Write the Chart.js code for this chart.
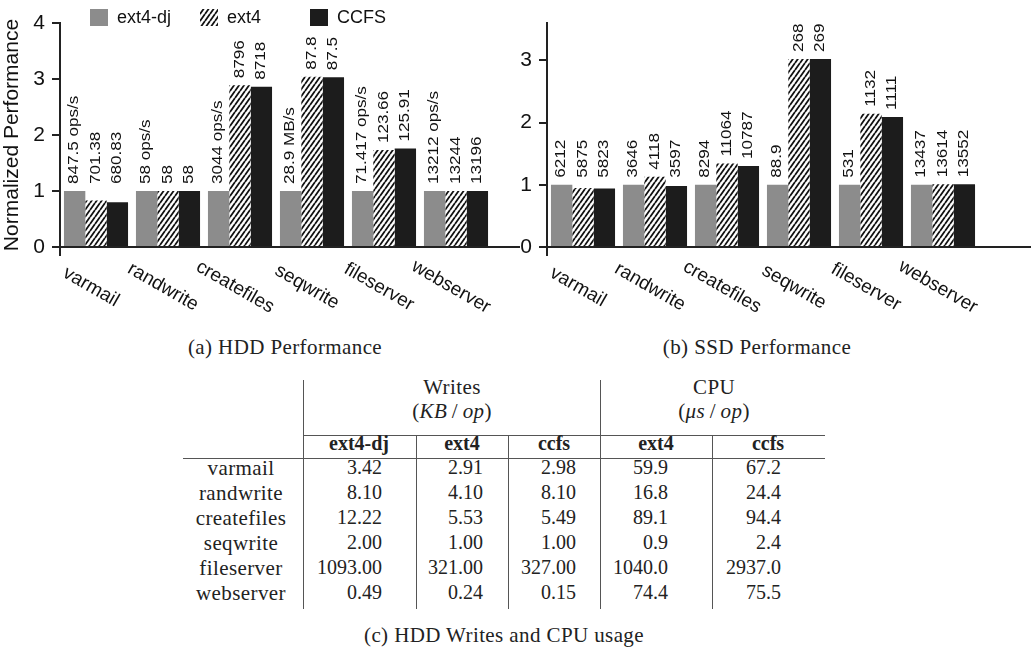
<!DOCTYPE html>
<html>
<head>
<meta charset="utf-8">
<script src="https://cdn.jsdelivr.net/npm/chart.js@4.4.1/dist/chart.umd.min.js"></script>
<style>
  body { margin: 0; width: 1031px; height: 654px; background: #fff; position: relative; overflow: hidden; }
  canvas { position: absolute; top: 0; }
  #hdd { left: 0; }
  #ssd { left: 520px; }
  .cell { position: absolute; height: 30px; line-height: 30px; font: 20px "Liberation Serif", "DejaVu Serif", serif; color: #222; white-space: nowrap; }
  .word { font-size: 21px; letter-spacing: 0.4px; }
  .bold { font-weight: bold; }
  .rule { position: absolute; background: #555; }
</style>
</head>
<body>
<canvas id="hdd" width="520" height="330"></canvas>
<canvas id="ssd" width="511" height="330"></canvas>
<script>
// --- data ---
const categories = ['varmail', 'randwrite', 'createfiles', 'seqwrite', 'fileserver', 'webserver'];
const seriesNames = ['ext4-dj', 'ext4', 'CCFS'];

// normalized to ext4-dj
const hddDj   = [1, 1, 1, 1, 1, 1];
const hddExt4 = [0.83, 1.0, 2.89, 3.04, 1.73, 1.0];
const hddCcfs = [0.80, 1.0, 2.86, 3.03, 1.76, 1.0];
const hddDjLabels   = ['847.5 ops/s', '58 ops/s', '3044 ops/s', '28.9 MB/s', '71.417 ops/s', '13212 ops/s'];
const hddExt4Labels = ['701.38', '58', '8796', '87.8', '123.66', '13244'];
const hddCcfsLabels = ['680.83', '58', '8718', '87.5', '125.91', '13196'];
const hddTicks = [0, 1, 2, 3, 4];

const ssdDj   = [1, 1, 1, 1, 1, 1];
const ssdExt4 = [0.95, 1.13, 1.34, 3.02, 2.14, 1.01];
const ssdCcfs = [0.94, 0.98, 1.30, 3.02, 2.09, 1.01];
const ssdDjLabels   = ['6212', '3646', '8294', '88.9', '531', '13437'];
const ssdExt4Labels = ['5875', '4118', '11064', '268', '1132', '13614'];
const ssdCcfsLabels = ['5823', '3597', '10787', '269', '1111', '13552'];
const ssdTicks = [0, 1, 2, 3];

// table (c)
const writesDj   = ['3.42', '8.10', '12.22', '2.00', '1093.00', '0.49'];
const writesExt4 = ['2.91', '4.10', '5.53', '1.00', '321.00', '0.24'];
const writesCcfs = ['2.98', '8.10', '5.49', '1.00', '327.00', '0.15'];
const cpuExt4    = ['59.9', '16.8', '89.1', '0.9', '1040.0', '74.4'];
const cpuCcfs    = ['67.2', '24.4', '94.4', '2.4', '2937.0', '75.5'];

const SANS = '"Liberation Sans", Arial, sans-serif';
const GRAY = '#8c8c8c';
const BLACK = '#1c1c1c';
const INK = '#222';

function makeHatch(ctx) {
  const c = document.createElement('canvas');
  c.width = 5; c.height = 7;
  const g = c.getContext('2d');
  g.fillStyle = '#fff';
  g.fillRect(0, 0, 5, 7);
  g.strokeStyle = '#111';
  g.lineWidth = 1.8;
  g.beginPath();
  [-5, 0, 5].forEach(dx => { g.moveTo(dx, 7); g.lineTo(dx + 5, 0); });
  g.stroke();
  return ctx.createPattern(c, 'repeat');
}

// value labels, rotated, above each bar
const valueLabels = {
  id: 'valueLabels',
  afterDatasetsDraw(chart) {
    const ctx = chart.ctx;
    const y1 = chart.scales.y.getPixelForValue(1);
    ctx.save();
    ctx.fillStyle = '#111';
    ctx.font = '14px ' + SANS;
    ctx.textBaseline = 'middle';
    ctx.textAlign = 'left';
    chart.data.datasets.forEach((ds, i) => {
      chart.getDatasetMeta(i).data.forEach((bar, j) => {
        ctx.save();
        ctx.translate(bar.x, Math.min(bar.y, y1) - 7);
        ctx.rotate(-Math.PI / 2);
        ctx.scale(1.22, 1);
        ctx.fillText(ds.valueLabels[j], 0, 0);
        ctx.restore();
      });
    });
    ctx.restore();
  }
};

// axes lines, slanted category labels, legend
const decorations = {
  id: 'decorations',
  afterDraw(chart, args, opts) {
    const ctx = chart.ctx;
    const a = chart.chartArea;
    const xs = chart.scales.x;
    ctx.save();
    ctx.strokeStyle = INK;
    ctx.lineWidth = 2;
    ctx.beginPath();
    ctx.moveTo(a.left, a.top - 1);
    ctx.lineTo(a.left, a.bottom + 9);
    ctx.moveTo(a.left, a.bottom);
    ctx.lineTo(chart.width, a.bottom);
    ctx.stroke();

    ctx.fillStyle = '#111';
    ctx.font = '19px ' + SANS;
    ctx.textAlign = 'center';
    ctx.textBaseline = 'middle';
    chart.data.labels.forEach((lab, i) => {
      ctx.save();
      ctx.translate(xs.getPixelForValue(i) - 5, a.bottom + 40);
      ctx.rotate(Math.PI / 6);
      ctx.fillText(lab, 0, 0);
      ctx.restore();
    });

    if (opts.legend) {
      ctx.font = '18px ' + SANS;
      ctx.textAlign = 'left';
      chart.data.datasets.forEach((ds, i) => {
        const x = opts.legend[i];
        ctx.fillStyle = ds.backgroundColor;
        ctx.fillRect(x, 9, 18, 17);
        ctx.fillStyle = '#111';
        ctx.fillText(ds.label, x + 27, 18);
      });
    }
    ctx.restore();
  }
};

function barChart(id, series, labels, yMax, ticks, axisWidth, padRight, yTitle, legend) {
  const ctx = document.getElementById(id).getContext('2d');
  const fills = [GRAY, makeHatch(ctx), BLACK];
  return new Chart(ctx, {
    type: 'bar',
    data: {
      labels: categories,
      datasets: series.map((d, i) => ({
        label: seriesNames[i],
        data: d,
        valueLabels: labels[i],
        backgroundColor: fills[i],
        borderWidth: 0,
        categoryPercentage: 0.89,
        barPercentage: 1.0
      }))
    },
    options: {
      responsive: false,
      animation: false,
      devicePixelRatio: 1,
      layout: { padding: { top: 23, right: padRight, left: 0, bottom: 0 } },
      plugins: {
        legend: { display: false },
        tooltip: { enabled: false },
        decorations: { legend: legend }
      },
      scales: {
        x: {
          offset: true,
          grid: { display: false },
          border: { display: false },
          ticks: { display: false },
          afterFit(s) { s.height = 83; }
        },
        y: {
          min: 0,
          max: yMax,
          grid: { display: true, drawOnChartArea: false, drawTicks: true, tickLength: 8, color: INK, lineWidth: 2 },
          border: { display: false },
          ticks: { font: { size: 21, family: SANS }, color: '#111', padding: 7, includeBounds: false },
          title: { display: !!yTitle, text: yTitle || '', font: { size: 21, family: SANS }, color: '#111', padding: 0 },
          afterBuildTicks(s) { s.ticks = ticks.map(v => ({ value: v })); },
          afterFit(s) { s.width = axisWidth; }
        }
      }
    },
    plugins: [valueLabels, decorations]
  });
}

barChart('hdd', [hddDj, hddExt4, hddCcfs], [hddDjLabels, hddExt4Labels, hddCcfsLabels],
  4, hddTicks, 60, 28, 'Normalized Performance', [90, 200, 310]);
barChart('ssd', [ssdDj, ssdExt4, ssdCcfs], [ssdDjLabels, ssdExt4Labels, ssdCcfsLabels],
  3.6, ssdTicks, 27, 52, null, null);

// --- captions and table ---
function addText(html, x, y, align, cls) {
  const d = document.createElement('div');
  d.className = 'cell' + (cls ? ' ' + cls : '');
  d.innerHTML = html;
  d.style.top = (y - 15) + 'px';
  d.style.width = '300px';
  d.style.textAlign = align;
  d.style.left = (align === 'center' ? x - 150 : x - 300) + 'px';
  document.body.appendChild(d);
}
function addRule(x1, y1, x2, y2) {
  const d = document.createElement('div');
  d.className = 'rule';
  d.style.left = x1 + 'px';
  d.style.top = y1 + 'px';
  d.style.width = Math.max(1, x2 - x1) + 'px';
  d.style.height = Math.max(1, y2 - y1) + 'px';
  document.body.appendChild(d);
}

addText('(a) HDD Performance', 285, 350, 'center', 'word');
addText('(b) SSD Performance', 757, 350, 'center', 'word');

const tableTop = 380, tableBottom = 609;
addRule(303, tableTop, 304, tableBottom);
addRule(600, tableTop, 601, tableBottom);
addRule(416, 436, 417, tableBottom);
addRule(508, 436, 509, tableBottom);
addRule(712, 436, 713, tableBottom);
addRule(303, 435, 825, 436);
addRule(183, 458, 825, 459);

addText('Writes', 452, 390, 'center', 'word');
addText('(<i>KB</i>&thinsp;/&thinsp;<i>op</i>)', 452, 414, 'center', 'word');
addText('CPU', 714, 390, 'center', 'word');
addText('(<i>μs</i>&thinsp;/&thinsp;<i>op</i>)', 714, 414, 'center', 'word');

const headCenters = [359, 462, 554, 656, 768];
['ext4-dj', 'ext4', 'ccfs', 'ext4', 'ccfs'].forEach((h, i) => addText(h, headCenters[i], 447, 'center', 'bold'));

const numRight = [382, 483, 576, 668, 781];
const cols = [writesDj, writesExt4, writesCcfs, cpuExt4, cpuCcfs];
categories.forEach((name, r) => {
  const y = 471 + r * 25;
  addText(name, 241, y, 'center', 'word');
  cols.forEach((col, c) => addText(col[r], numRight[c], y, 'right'));
});

addText('(c) HDD Writes and CPU usage', 504, 638, 'center', 'word');
</script>
</body>
</html>
